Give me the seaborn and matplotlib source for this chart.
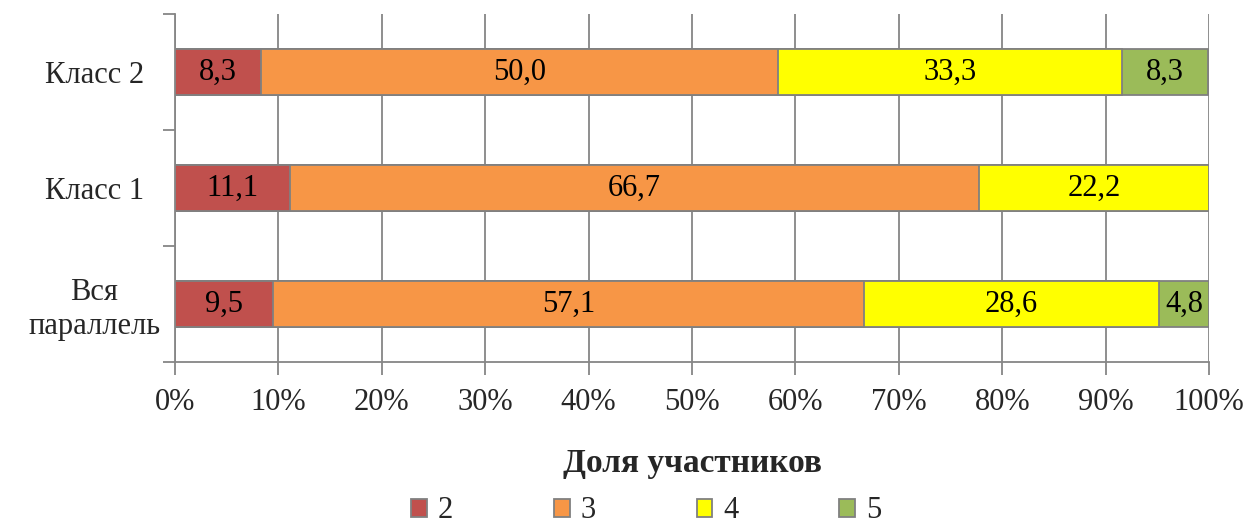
import numpy as np
import pandas as pd
import matplotlib
matplotlib.use("Agg")
import matplotlib.pyplot as plt
import seaborn as sns
from matplotlib.patches import Patch

categories = ["Класс 2", "Класс 1", "Вся\nпараллель"]
grades = ["2", "3", "4", "5"]
v2 = [8.3, 11.1, 9.5]
v3 = [50.0, 66.7, 57.1]
v4 = [33.3, 22.2, 28.6]
v5 = [8.3, 0.0, 4.8]
xticks = [0, 10, 20, 30, 40, 50, 60, 70, 80, 90, 100]
colors = ["#C0504D", "#F79646", "#FFFF00", "#9BBB59"]

sns.set_theme(style="white")
plt.rcParams["font.family"] = ["Liberation Serif", "DejaVu Serif"]

FS = 22

series = [v2, v3, v4, v5]
cum = np.zeros(len(categories))
cums = []
for s in series:
    cum = cum + np.array(s)
    cums.append(cum.copy())

fig = plt.figure(figsize=(12.45, 5.27), dpi=100)
ax = fig.add_axes([175/1245, 1-362/527, (1209-175)/1245, (362-14)/527])

for t in xticks:
    ax.axvline(t, color="#868686", lw=1.3, zorder=0)

for i in range(len(series) - 1, -1, -1):
    d = pd.DataFrame({"cat": categories, "val": cums[i]})
    sns.barplot(data=d, y="cat", x="val", order=categories, color=colors[i],
                orient="h", width=0.405, edgecolor="#808080", linewidth=1.3,
                saturation=1, ax=ax, zorder=2)

for j, cat in enumerate(categories):
    left = 0.0
    for i, s in enumerate(series):
        v = s[j]
        if v > 0:
            ax.text(left + v / 2, j, f"{v:.1f}".replace(".", ","), ha="center",
                    va="center", fontsize=FS, color="black", zorder=5)
        left += v

ax.set_xlim(0, 100)
ax.set_ylim(2.5, -0.5)
ax.set_xticks(xticks)
ax.set_xticklabels([f"{t}%" for t in xticks], fontsize=FS)
ax.set_yticks([-0.5, 0.5, 1.5, 2.5])
ax.set_yticklabels([])
ax.set_yticks(range(len(categories)), minor=True)
ax.set_yticklabels(categories, minor=True, fontsize=FS, ha="center", multialignment="center")
ax.tick_params(axis="y", which="minor", length=0, pad=58)
ax.tick_params(axis="y", which="major", length=9, width=1.3, color="#868686", left=True)
ax.tick_params(axis="x", length=9, width=1.3, color="#868686", bottom=True, pad=10)
ax.set_ylabel("")
ax.set_xlabel("Доля участников", fontsize=24, fontweight="bold", labelpad=22)
for sp in ["top", "right"]:
    ax.spines[sp].set_visible(False)
for sp in ["left", "bottom"]:
    ax.spines[sp].set_color("#868686")
    ax.spines[sp].set_linewidth(1.3)

handles = [Patch(facecolor=c, edgecolor="#808080", linewidth=1.3, label=g) for c, g in zip(colors, grades)]
fig.legend(handles=handles, loc="center", bbox_to_anchor=(0.519, 1-511/527), ncol=4,
           frameon=False, fontsize=FS, columnspacing=3.3, handlelength=0.52,
           handleheight=0.52, handletextpad=0.35, borderpad=0)

fig.savefig("out.png", dpi=100)
